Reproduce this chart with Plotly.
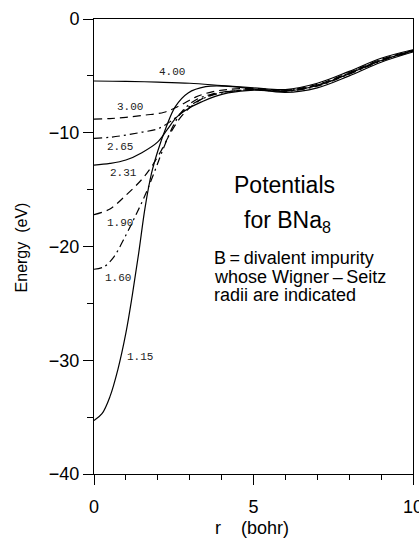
import plotly.graph_objects as go

# ---- data ----
r_400 = [0, 1, 2, 3, 4, 5, 6, 7, 8, 9, 10]
e_400 = [-5.45, -5.48, -5.55, -5.65, -5.85, -6.05, -6.2, -5.65, -4.6, -3.45, -2.7]

r_300 = [0, 0.5, 1.0, 1.6, 2.2, 2.7, 3.2, 3.7, 4.2, 5, 6, 7, 8, 9, 10]
e_300 = [-8.8, -8.75, -8.65, -8.45, -8.2, -7.6, -6.85, -6.4, -6.2, -6.1, -6.25, -5.75, -4.7, -3.55, -2.75]

r_265 = [0, 0.5, 1.0, 1.5, 2.0, 2.4, 2.8, 3.2, 3.6, 4.0, 4.5, 5, 6, 7, 8, 9, 10]
e_265 = [-10.5, -10.4, -10.2, -9.95, -9.65, -9.0, -8.1, -7.3, -6.8, -6.5, -6.3, -6.2, -6.3, -5.8, -4.75, -3.6, -2.8]

r_231 = [0, 0.5, 1.0, 1.5, 2.0, 2.3, 2.6, 3.0, 3.4, 3.8, 4.2, 5, 6, 7, 8, 9, 10]
e_231 = [-12.85, -12.7, -12.4, -11.75, -10.8, -9.7, -8.6, -7.8, -7.25, -6.8, -6.5, -6.25, -6.35, -5.85, -4.8, -3.65, -2.8]

r_190 = [0, 0.5, 1.0, 1.5, 1.8, 2.1, 2.4, 2.7, 3.0, 3.4, 3.9, 4.5, 5, 6, 7, 8, 9, 10]
e_190 = [-17.2, -16.7, -15.5, -14.1, -13.0, -11.6, -10.0, -8.7, -7.8, -7.0, -6.5, -6.3, -6.2, -6.3, -5.85, -4.8, -3.65, -2.8]

r_160 = [0, 0.3, 0.6, 1.0, 1.3, 1.6, 1.9, 2.2, 2.5, 2.8, 3.2, 3.7, 4.3, 5, 6, 7, 8, 9, 10]
e_160 = [-22.0, -21.8, -21.0, -19.0, -17.3, -15.5, -13.4, -11.2, -9.3, -8.0, -7.1, -6.6, -6.35, -6.2, -6.35, -5.9, -4.85, -3.7, -2.85]

r_115 = [0, 0.25, 0.5, 0.75, 1.0, 1.2, 1.4, 1.6, 1.8, 2.0, 2.25, 2.55, 2.95, 3.5, 4.1, 5, 6, 7, 8, 9, 10]
e_115 = [-35.3, -34.7, -33.2, -30.8, -27.6, -24.3, -20.6, -16.6, -13.6, -11.6, -9.6, -7.7, -6.5, -5.95, -5.9, -6.15, -6.45, -6.05, -5.0, -3.8, -2.9]

labels = ["4.00", "3.00", "2.65", "2.31", "1.90", "1.60", "1.15"]
label_r = [2.45, 1.13, 0.82, 0.91, 0.82, 0.75, 1.44]
label_e = [-4.66, -7.74, -11.25, -13.55, -17.9, -22.8, -29.7]

x_ticks = [0, 5, 10]
y_ticks = [0, -10, -20, -30, -40]

DASH = "8px,5px"
DASHDOT = "8px,4px,2px,4px"

series = [
    (r_400, e_400, "solid"),
    (r_300, e_300, DASH),
    (r_265, e_265, DASHDOT),
    (r_231, e_231, "solid"),
    (r_190, e_190, DASH),
    (r_160, e_160, DASHDOT),
    (r_115, e_115, "solid"),
]

fig = go.Figure()
for (rx, ey, dash), name in zip(series, labels):
    fig.add_trace(go.Scatter(
        x=rx, y=ey, mode="lines", name=name,
        line=dict(color="black", width=1.2, dash=dash, shape="spline", smoothing=1.0),
        showlegend=False, hoverinfo="skip",
    ))

for t, rx, ey in zip(labels, label_r, label_e):
    fig.add_annotation(x=rx, y=ey, xref="x", yref="y", text=t, showarrow=False,
                       font=dict(family="Liberation Mono", size=11, color="#222"))

SANS = "Liberation Sans, Arial, sans-serif"
# text block
fig.add_annotation(x=0.4326, y=0.635, xref="paper", yref="paper", xanchor="left", yanchor="middle",
                   text="Potentials", showarrow=False, font=dict(family=SANS, size=23, color="black"))
fig.add_annotation(x=0.464, y=0.555, xref="paper", yref="paper", xanchor="left", yanchor="middle",
                   text="for BNa<sub>8</sub>", showarrow=False, font=dict(family=SANS, size=23, color="black"))
for txt, yy in [("B\u2009=\u2009divalent impurity", 0.4747),
                ("whose Wigner\u2009\u2013\u2009Seitz", 0.433),
                ("radii are indicated", 0.393)]:
    fig.add_annotation(x=0.37, y=yy, xref="paper", yref="paper", xanchor="left", yanchor="middle",
                       text=txt, showarrow=False, font=dict(family=SANS, size=18, color="black"))

# axis titles
fig.add_annotation(x=-0.26, y=0.497, xref="paper", yref="paper", textangle=-90,
                   text="Energy\u00a0\u00a0(eV)", showarrow=False, font=dict(family=SANS, size=16, color="black"))
fig.add_annotation(x=0.495, y=-0.145, xref="paper", yref="paper", yanchor="bottom",
                   text="r\u00a0\u00a0\u00a0\u00a0(bohr)", showarrow=False, font=dict(family=SANS, size=18, color="black"))

fig.update_layout(
    width=419, height=540,
    margin=dict(l=94, r=6, t=19, b=66, autoexpand=False),
    paper_bgcolor="white", plot_bgcolor="white",
    font=dict(family=SANS, size=18, color="black"),
    xaxis=dict(range=[0, 10], tickvals=x_ticks, ticktext=[str(v) for v in x_ticks],
               showline=True, linecolor="black", linewidth=1, mirror=True,
               ticks="outside", ticklen=10, tickwidth=1, tickcolor="black",
               minor=dict(dtick=1, ticks="outside", ticklen=5, tickwidth=1, tickcolor="black"),
               showgrid=False, zeroline=False, ticklabelstandoff=6, ticklabeloverflow="allow",
               automargin=False,
               tickfont=dict(family=SANS, size=18, color="black")),
    yaxis=dict(range=[-40, 0], tickvals=y_ticks,
               showline=True, linecolor="black", linewidth=1, mirror=True,
               ticks="outside", ticklen=10, tickwidth=1, tickcolor="black",
               minor=dict(dtick=5, ticks="outside", ticklen=6, tickwidth=1, tickcolor="black"),
               showgrid=False, zeroline=False, automargin=False,
               tickfont=dict(family=SANS, size=18, color="black")),
)

fig.write_html("out.html")
